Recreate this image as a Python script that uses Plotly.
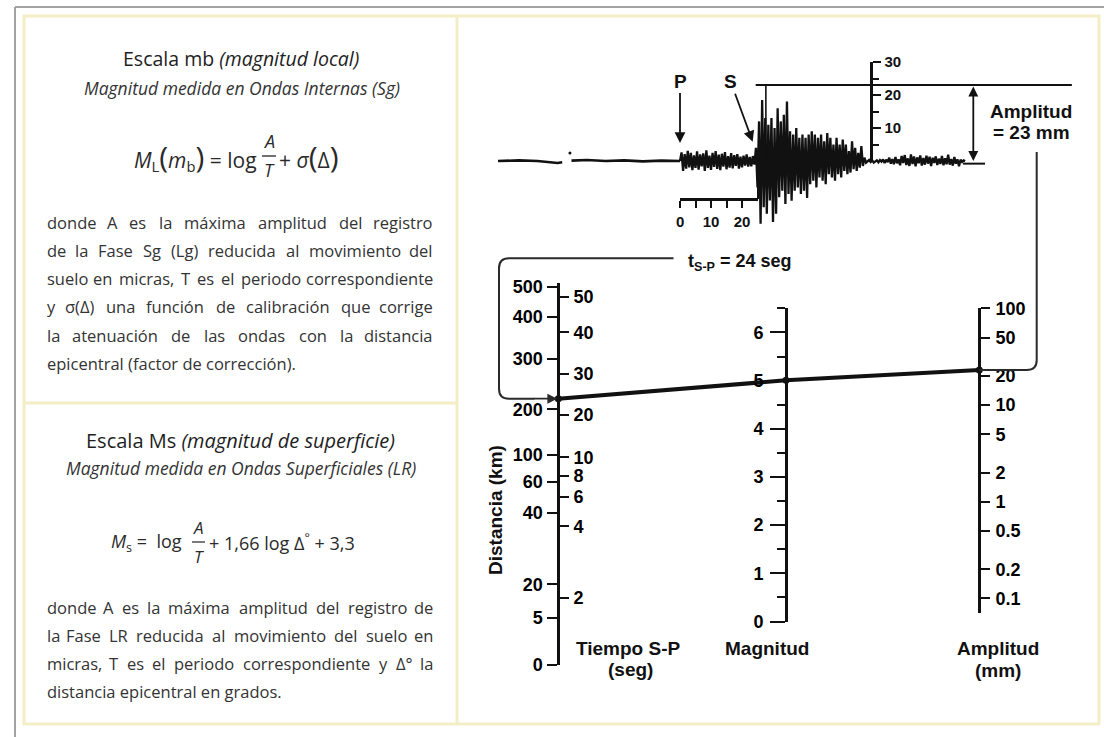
import numpy as np
import plotly.graph_objects as go

# ============================================================ DATA
# Seismogram: ground-motion amplitude (mm) sampled every SEIS_DT s from the P arrival
SEIS_DT = 0.5
P_CODA = [0.0, 2.6, -3.0, 2.1, -2.3, 3.1, -1.9, 2.5, -2.8, 1.7,
          -2.1, 2.9, -2.6, 2.0, -1.6, 2.3, -3.0, 3.2, -2.1, 1.6,
          -2.7, 2.5, -1.8, 3.0, -2.4, 1.9, -2.8, 2.2, -1.7, 2.7,
          -2.5, 1.5, -2.0, 2.4, -2.2, 1.8, -1.5, 2.1, -2.3, 1.3,
          -1.9, 1.6, -1.4, 2.0, -1.7, 1.2, -1.6, 1.5, -1.1]
S_PHASE = [4.0, -8.0, 12.0, -19.0, 18.5, -14.0, 13.0, -16.0, 11.0, -12.0,
           13.0, -18.5, 10.0, -16.0, 16.0, -11.0, 12.0, -9.0, 14.0, -13.0,
           18.0, -10.0, 9.0, -12.0, 8.0, -9.0, 10.0, -8.0, 7.0, -10.0,
           8.0, -9.0]
S_CODA = [7.0, -11.2, 8.0, -7.0, 9.0, -6.0, 8.0, -8.0, 7.0, -5.0,
          8.0, -6.0, 6.0, -7.0, 8.5, -4.0, 7.0, -5.0, 5.0, -6.0,
          7.0, -4.0, 5.0, -5.0, 6.5, -3.0, 5.0, -4.0, 3.0, -3.5,
          6.0, -2.5, 4.0, -3.0, 2.5, -2.0, 4.5, -1.5, 1.0, -0.5]
TAIL = [0.0, 0.3, -0.3, 0.2, -0.5, 0.0, 0.2, -0.4, 0.3, -0.2,
        0.5, -0.6, 0.4, -0.3, 1.0, -0.8, 0.6, -1.0, 1.2, -0.7,
        0.5, -1.3, 1.5, -0.6, 1.8, -1.2, 0.8, -1.5, 2.0, -0.9,
        1.4, -1.6, 1.1, -0.7, 1.7, -1.4, 0.9, -1.1, 1.6, -0.8,
        1.3, -1.5, 1.0, -0.6, 1.4, -1.2, 0.7, -0.9, 1.5, -1.3,
        0.8, -1.0, 1.9, -1.1, 0.6, -1.4, 1.2, -0.8, 0.5, -1.6,
        0.4, -0.3, 0.2, 0.0]
# quiet record before the P arrival (seconds, mm)
PRE_T = [-58.7, -52.0, -46.0, -41.5, -39.5, -38.0, None, -35.0, -30.0, -24.0, -18.0, -12.0, -6.0, 0.0]
PRE_A = [0.0, 0.2, 0.0, -0.3, -0.6, -0.4, None, 0.1, 0.3, 0.0, 0.2, -0.1, 0.1, 0.0]
DOT_T = [-35.5]
DOT_A = [2.4]

TSP_SEC = 24.0   # S-P time (s)
AMP_MM = 23.0    # maximum amplitude (mm)
MAG_READ = 5.0   # magnitude read on the nomogram

TIME_RULER_TICKS = [0, 10, 20]
TIME_RULER_MINOR = [5, 15]
AMP_RULER_TICKS = [10, 20, 30]
AMP_RULER_MINOR = [5, 15, 25]

# nomogram scales (positions expressed in magnitude units)
DIST_LABELS = ["0", "5", "20", "40", "60", "100", "200", "300", "400", "500"]
DIST_SCALE = [-0.89, 0.08, 0.77, 2.25, 2.90, 3.46, 4.40, 5.44, 6.32, 6.94]
TIME_VALUES = [2, 4, 6, 8, 10, 20, 30, 40, 50]
TIME_SCALE = [0.49, 1.97, 2.59, 3.02, 3.40, 4.28, 5.13, 5.99, 6.73]
MAG_TICKS = [0, 1, 2, 3, 4, 5, 6]
MAG_MINOR = [0.5, 1.5, 2.5, 3.5, 4.5, 5.5, 6.5]
AMP_TICKS = [0.1, 0.2, 0.5, 1, 2, 5, 10, 20, 50, 100]
AMP_LABELS = ["0.1", "0.2", "0.5", "1", "2", "5", "10", "20", "50", "100"]

MB_TITLE = "Escala mb <i>(magnitud local)</i>"
MB_SUB = "Magnitud medida en Ondas Internas (Sg)"
MB_LINES = ["donde A es la máxima amplitud del registro",
            "de la Fase Sg (Lg) reducida al movimiento del",
            "suelo en micras, T es el periodo correspondiente",
            "y σ(Δ) una función de calibración que corrige",
            "la atenuación de las ondas con la distancia",
            "epicentral (factor de corrección)."]
MS_TITLE = "Escala Ms <i>(magnitud de superficie)</i>"
MS_SUB = "Magnitud medida en Ondas Superficiales (LR)"
MS_LINES = ["donde A es la máxima amplitud del registro de",
            "la Fase LR reducida al movimiento del suelo en",
            "micras, T es el periodo correspondiente y Δ° la",
            "distancia epicentral en grados."]

# ============================================================ LAYOUT CONSTANTS
W, H = 1104, 737
INK = "#111111"
BODY = "#333333"
CREAM = "#f3eec6"
SANS = "Open Sans"
ARIAL = "Liberation Sans"

P_PX, S_PPS = 680.0, 3.1        # seismogram: x of P arrival, px per second
BASE_PX, MM_PPU = 161.0, 3.3    # seismogram: baseline y, px per mm
RULER_END_PX, TRULER_Y = 758.0, 199.0
ARULER_X = 871.0
M0_PX, PPU = 622.0, 48.33       # nomogram: y of magnitude 0, px per magnitude unit
DIST_X, MAG_X, AMP_X = 558.3, 786.0, 979.3
DIST_TOP, DIST_BOT = 283.0, 665.0
AMP_TOP, AMP_BOT, AMP_PPD = 308.3, 613.0, 96.7


def fy(py):
    return 1.0 - py / H


def nunit(py):
    return (M0_PX - py) / PPU


def npx(u):
    return M0_PX - u * PPU


def amp_unit(a):
    return nunit(AMP_TOP + (2.0 - np.log10(a)) * AMP_PPD)


fig = go.Figure()
hidden = dict(visible=False, fixedrange=True, showgrid=False, zeroline=False, automargin=False)
tickfont = dict(family=ARIAL, size=18, color="#000000", weight="bold")

axis_line = dict(showline=True, linewidth=2.5, linecolor=INK, ticks="outside",
                 tickwidth=2, tickcolor=INK, showgrid=False, zeroline=False,
                 fixedrange=True, tickmode="array", automargin=False)

layout = dict(
    width=W, height=H, margin=dict(l=0, r=0, t=0, b=0, pad=0, autoexpand=False),
    paper_bgcolor="white", plot_bgcolor="rgba(0,0,0,0)",
    showlegend=False, hovermode=False,
    font=dict(family=SANS, color=INK),
    xaxis=dict(domain=[0, 1], range=[0, W], anchor="y", **hidden),
    yaxis=dict(domain=[0, 1], range=[H, 0], anchor="x", **hidden),
    # seismogram (seconds / mm)
    xaxis2=dict(domain=[0, 1], range=[-P_PX / S_PPS, (W - P_PX) / S_PPS], anchor="y2", **hidden),
    yaxis2=dict(domain=[0, 1], range=[(BASE_PX - H) / MM_PPU, BASE_PX / MM_PPU], anchor="x2", **hidden),
    # time ruler under the seismogram
    xaxis3=dict(domain=[P_PX / W, RULER_END_PX / W], range=[-0.05, (RULER_END_PX - P_PX) / S_PPS],
                anchor="free", position=fy(TRULER_Y), side="bottom", ticklen=7,
                tickvals=TIME_RULER_TICKS, ticktext=[str(v) for v in TIME_RULER_TICKS],
                tickfont=dict(family=ARIAL, size=15, color=INK, weight="bold"), ticklabelstandoff=1,
                minor=dict(tickmode="array", tickvals=TIME_RULER_MINOR, ticklen=7, tickwidth=2,
                           tickcolor=INK, ticks="outside"),
                **axis_line),
    yaxis3=dict(domain=[0, 1], range=[0, 1], anchor="x3", **hidden),
    # amplitude ruler (mm)
    xaxis4=dict(domain=[0, 1], range=[0, 1], anchor="y4", **hidden),
    yaxis4=dict(domain=[fy(BASE_PX), fy(BASE_PX - 30 * MM_PPU)], range=[0, 30.05],
                anchor="free", position=ARULER_X / W, side="right", ticklen=8,
                tickvals=AMP_RULER_TICKS, ticktext=[str(v) for v in AMP_RULER_TICKS],
                tickfont=dict(family=ARIAL, size=15, color=INK, weight="bold"), ticklabelstandoff=1,
                minor=dict(tickmode="array", tickvals=AMP_RULER_MINOR, ticklen=6, tickwidth=2,
                           tickcolor=INK, ticks="outside"),
                **axis_line),
    # nomogram: distance (left) and S-P time (right)
    xaxis5=dict(domain=[0, 1], range=[0, 1], anchor="y5", **hidden),
    yaxis5=dict(domain=[fy(DIST_BOT), fy(DIST_TOP)], range=[nunit(DIST_BOT) - 0.01, nunit(DIST_TOP)],
                anchor="free", position=DIST_X / W, side="left", ticklen=10,
                tickvals=DIST_SCALE, ticktext=DIST_LABELS, tickfont=tickfont,
                ticklabelstandoff=1, **axis_line),
    xaxis6=dict(domain=[0, 1], range=[0, 1], anchor="y6", **hidden),
    yaxis6=dict(domain=[fy(DIST_BOT), fy(DIST_TOP)], range=[nunit(DIST_BOT) - 0.01, nunit(DIST_TOP)],
                anchor="free", position=DIST_X / W, side="right", ticklen=9,
                tickvals=TIME_SCALE, ticktext=[str(v) for v in TIME_VALUES], tickfont=tickfont,
                ticklabelstandoff=1, **axis_line),
    # magnitude
    xaxis7=dict(domain=[0, 1], range=[0, 1], anchor="y7", **hidden),
    yaxis7=dict(domain=[fy(M0_PX), fy(npx(6.5))], range=[-0.01, 6.51],
                anchor="free", position=MAG_X / W, side="left", ticklen=15,
                tickvals=MAG_TICKS, ticktext=[str(v) for v in MAG_TICKS], tickfont=tickfont,
                ticklabelstandoff=3,
                minor=dict(tickmode="array", tickvals=MAG_MINOR, ticklen=8, tickwidth=2,
                           tickcolor=INK, ticks="outside"),
                **axis_line),
    # amplitude (log)
    xaxis8=dict(domain=[0, 1], range=[0, 1], anchor="y8", **hidden),
    yaxis8=dict(type="log", domain=[fy(AMP_BOT), fy(AMP_TOP)],
                range=[2.0 - (AMP_BOT - AMP_TOP) / AMP_PPD, 2.002],
                anchor="free", position=AMP_X / W, side="right", ticklen=9,
                tickvals=AMP_TICKS, ticktext=AMP_LABELS, tickfont=tickfont,
                ticklabelstandoff=2, **axis_line),
    # hidden full-height nomogram axis (magnitude units) for the reading line
    yaxis9=dict(domain=[0, 1], range=[nunit(H), nunit(0)], anchor="x", **hidden),
)
fig.update_layout(**layout)

# dummy traces so that every axis pair is drawn
for xa, ya in [("x", "y"), ("x3", "y3"), ("x4", "y4"), ("x5", "y5"),
               ("x6", "y6"), ("x7", "y7"), ("x8", "y8")]:
    fig.add_trace(go.Scatter(x=[None], y=[None], xaxis=xa, yaxis=ya, mode="markers",
                             showlegend=False, hoverinfo="skip"))

# ---------------- seismogram
event_a = P_CODA + S_PHASE + S_CODA + TAIL
event_t = [i * SEIS_DT for i in range(len(event_a))]
fig.add_trace(go.Scatter(x=PRE_T, y=PRE_A, mode="lines", xaxis="x2", yaxis="y2",
                         line=dict(color=INK, width=2.6), connectgaps=False, hoverinfo="skip"))
fig.add_trace(go.Scatter(x=event_t, y=event_a, mode="lines", xaxis="x2", yaxis="y2",
                         line=dict(color=INK, width=2.3), hoverinfo="skip"))
fig.add_trace(go.Scatter(x=DOT_T, y=DOT_A, mode="markers", xaxis="x2", yaxis="y2",
                         marker=dict(color=INK, size=3), hoverinfo="skip"))

# ---------------- nomogram reading line
read_y = [float(np.interp(TSP_SEC, TIME_VALUES, TIME_SCALE)), MAG_READ, float(amp_unit(AMP_MM))]
fig.add_trace(go.Scatter(x=[DIST_X, MAG_X, AMP_X], y=read_y, mode="lines+markers",
                         xaxis="x", yaxis="y9", line=dict(color=INK, width=4),
                         marker=dict(color=INK, size=7), hoverinfo="skip"))
dist_py = npx(read_y[0])
amp_py = npx(read_y[2])

# ---------------- shapes
shapes = []
# page frame
shapes.append(dict(type="line", xref="x", yref="y", x0=15, y0=H, x1=15, y1=7,
                   line=dict(color="#a3a3a3", width=2), layer="below"))
shapes.append(dict(type="line", xref="x", yref="y", x0=15, y0=7, x1=W, y1=7,
                   line=dict(color="#a3a3a3", width=2), layer="below"))
shapes.append(dict(type="rect", xref="x", yref="y", x0=24, y0=16, x1=1099, y1=724,
                   line=dict(color=CREAM, width=3), layer="below"))
shapes.append(dict(type="line", xref="x", yref="y", x0=457, y0=16, x1=457, y1=724,
                   line=dict(color=CREAM, width=3), layer="below"))
shapes.append(dict(type="line", xref="x", yref="y", x0=24, y0=403, x1=457, y1=403,
                   line=dict(color=CREAM, width=3), layer="below"))
# amplitude reference lines on the seismogram
shapes.append(dict(type="line", xref="x2", yref="y2", x0=24.4, x1=126.4, y0=AMP_MM, y1=AMP_MM,
                   line=dict(color=INK, width=2)))
shapes.append(dict(type="line", xref="x2", yref="y2", x0=27.7, x1=27.7, y0=0, y1=AMP_MM,
                   line=dict(color=INK, width=1.6)))
shapes.append(dict(type="line", xref="x2", yref="y2", x0=91.3, x1=98.4, y0=-0.8, y1=-0.8,
                   line=dict(color=INK, width=2)))
shapes.append(dict(type="line", xref="x2", yref="y2",
                   x0=(RULER_END_PX - P_PX) / S_PPS, x1=(RULER_END_PX - P_PX) / S_PPS,
                   y0=(BASE_PX - TRULER_Y) / MM_PPU, y1=0, line=dict(color=INK, width=2)))
# bracket from the S-P label to the time scale
bx, by0 = 499.0, 258.3
shapes.append(dict(type="path", xref="x", yref="y",
                   path=(f"M 673.5,{by0} L {bx + 10},{by0} Q {bx},{by0} {bx},{by0 + 10} "
                         f"L {bx},{dist_py - 10} Q {bx},{dist_py} {bx + 10},{dist_py} "
                         f"L {DIST_X - 24},{dist_py}"),
                   line=dict(color="#2a2a2a", width=2)))
# connector from amplitude label to the amplitude scale
cx = 1036.7
shapes.append(dict(type="path", xref="x", yref="y",
                   path=(f"M {cx},152 L {cx},{amp_py - 10} Q {cx},{amp_py} {cx - 10},{amp_py} "
                         f"L {AMP_X},{amp_py}"),
                   line=dict(color="#2a2a2a", width=2)))
# fraction bars in formulas
shapes.append(dict(type="line", xref="x", yref="y", x0=262, x1=276, y0=156, y1=156,
                   line=dict(color="#333", width=1.4)))
shapes.append(dict(type="line", xref="x", yref="y", x0=192, x1=205, y0=542, y1=542,
                   line=dict(color="#333", width=1.3)))

# ---------------- annotations
ann = []


def txt(x, y, s, size, color=INK, family=SANS, xanchor="center", yanchor="middle", angle=0):
    ann.append(dict(x=x, y=y, xref="x", yref="y", text=s, showarrow=False,
                    font=dict(family=family, size=size, color=color),
                    xanchor=xanchor, yanchor=yanchor, textangle=angle))


# approximate Open Sans advance widths (units per em = 2048) for justification
OSW = {' ': 532, 'a': 1139, 'b': 1255, 'c': 975, 'd': 1255, 'e': 1149, 'f': 694, 'g': 1122,
       'h': 1257, 'i': 518, 'j': 518, 'k': 1075, 'l': 518, 'm': 1905, 'n': 1257, 'o': 1237,
       'p': 1255, 'q': 1255, 'r': 836, 's': 977, 't': 723, 'u': 1257, 'v': 1026, 'w': 1593,
       'x': 1073, 'y': 1028, 'z': 946, 'á': 1139, 'é': 1149, 'í': 518, 'ó': 1237, 'ú': 1257,
       'A': 1296, 'F': 1057, 'L': 1073, 'R': 1284, 'S': 1124, 'T': 1141, '(': 604, ')': 604,
       ',': 500, '.': 545, 'σ': 1237, 'Δ': 1300, '°': 856}


def word_w(w, size):
    return sum(OSW.get(ch, 1150) for ch in w) / 2048.0 * size


def para(lines, y0, dy, x0, x1, size):
    for k, line in enumerate(lines):
        y = y0 + k * dy
        words = line.split(" ")
        if k == len(lines) - 1:
            txt(x0, y, line, size, BODY, xanchor="left")
            continue
        ws = [word_w(w, size) for w in words]
        gap = (x1 - x0 - sum(ws)) / (len(words) - 1)
        x = x0
        for i, (w, wd) in enumerate(zip(words, ws)):
            if i == 0:
                txt(x0, y, w, size, BODY, xanchor="left")
            elif i == len(words) - 1:
                txt(x1, y, w, size, BODY, xanchor="right")
            else:
                txt(x + wd / 2, y, w, size, BODY, xanchor="center")
            x += wd + gap


BIGP = "<span style='font-size:30px'>%s</span>"
# --- panel mb
txt(241, 58, MB_TITLE, 19.5, "#1e1e1e")
txt(242, 88, "<i>" + MB_SUB + "</i>", 17.5, "#333333")
txt(259, 156, "<i>M</i><sub>L</sub>" + BIGP % "(" + "<i>m</i><sub>b</sub>" + BIGP % ")" + " = log",
    21, "#2a2a2a", xanchor="right")
txt(269, 141, "<i>A</i>", 18, "#2a2a2a")
txt(269, 170, "<i>T</i>", 18, "#2a2a2a")
txt(277, 156, "+ <i>σ</i>" + BIGP % "(" + "Δ" + BIGP % ")", 21, "#2a2a2a", xanchor="left")
para(MB_LINES, 222, 28.3, 45, 435, 16.5)
# --- panel Ms
txt(240, 440, MS_TITLE, 20, "#1e1e1e")
txt(241, 468, "<i>" + MS_SUB + "</i>", 17.5, "#333333")
txt(184, 542, "<i>M</i><sub>s</sub> =\u00a0 log", 18, "#2a2a2a", xanchor="right")
txt(198.5, 527, "<i>A</i>", 17, "#2a2a2a")
txt(198.5, 556, "<i>T</i>", 17, "#2a2a2a")
txt(207, 542, "+ 1,66 log Δ<sup>°</sup> + 3,3", 18, "#2a2a2a", xanchor="left")
para(MS_LINES, 607, 28.3, 45, 435, 16.5)

# --- right panel labels
B = "<b>%s</b>"
txt(1031, 111, B % "Amplitud", 19, INK, ARIAL)
txt(1031, 132, B % "= 23 mm", 19, INK, ARIAL)
txt(686, 262, B % ("t<sub>S-P</sub> = %d seg" % TSP_SEC), 18, INK, ARIAL, xanchor="left")
txt(628, 648, B % "Tiempo S-P", 19, INK, ARIAL)
txt(630, 669, B % "(seg)", 19, INK, ARIAL)
txt(767, 648, B % "Magnitud", 19, INK, ARIAL)
txt(998, 648, B % "Amplitud", 19, INK, ARIAL)
txt(998, 670, B % "(mm)", 19, INK, ARIAL)
txt(495, 510, B % "Distancia (km)", 19, INK, ARIAL, angle=-90)

# arrows
ann.append(dict(x=0, y=(BASE_PX - 143) / MM_PPU, xref="x2", yref="y2", text=B % "P",
                showarrow=True, ax=0, ay=-62, arrowhead=2, arrowsize=1.2, arrowwidth=1.8,
                arrowcolor=INK, font=dict(family=ARIAL, size=19, color=INK)))
ann.append(dict(x=TSP_SEC - 0.55, y=(BASE_PX - 141.7) / MM_PPU, xref="x2", yref="y2", text=B % "S",
                showarrow=True, ax=-22, ay=-60, arrowhead=2, arrowsize=1.2, arrowwidth=1.8,
                arrowcolor=INK, font=dict(family=ARIAL, size=19, color=INK)))
amp_arrow_t = (973.3 - P_PX) / S_PPS
ann.append(dict(x=amp_arrow_t, y=0, xref="x2", yref="y2", ax=amp_arrow_t, ay=AMP_MM,
                axref="x2", ayref="y2", text="", showarrow=True, arrowhead=2, arrowside="end+start",
                arrowsize=1.1, arrowwidth=1.8, arrowcolor=INK))
ann.append(dict(x=DIST_X - 1, y=dist_py, xref="x", yref="y", ax=DIST_X - 26, ay=dist_py,
                axref="x", ayref="y", text="", showarrow=True, arrowhead=2,
                arrowsize=1.1, arrowwidth=1.8, arrowcolor="#2a2a2a"))

fig.update_layout(shapes=shapes, annotations=ann)
# remove the default page margin so the 1104x737 figure fills the window exactly
fig.write_html("out.html", config={"displayModeBar": False, "staticPlot": True},
               post_script="document.body.style.margin='0px';document.body.style.overflow='hidden';")
